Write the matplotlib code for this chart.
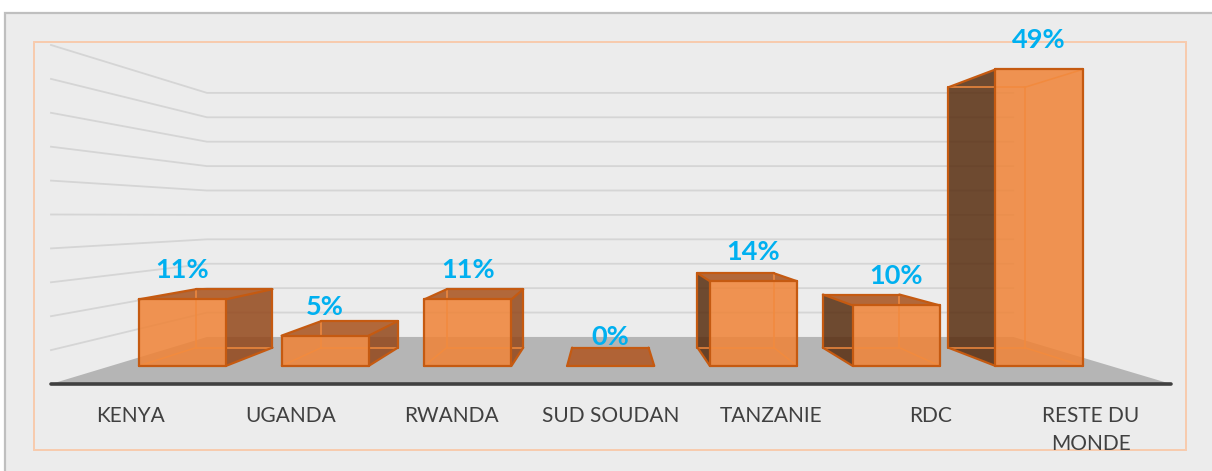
import matplotlib.pyplot as plt
from matplotlib.patches import Polygon, Rectangle

# Share of exports by destination
categories = ["KENYA", "UGANDA", "RWANDA", "SUD SOUDAN", "TANZANIE", "RDC", "RESTE DU\nMONDE"]
shares = [11, 5, 11, 0, 14, 10, 49]
grid_steps = list(range(5, 55, 5))   # value gridlines, in percent

# Perspective set-up (axes units are pixels, y pointing down)
HORIZON = 216          # eye level on screen
VANISH_X = 608         # vanishing point x
GROUND = 168           # front floor edge below the horizon
PX_PER_PCT = 6.78      # height of 1 % on the front plane
DEPTH_K = 0.389        # shrink factor of the floor depth
FLOOR_X0, FLOOR_X1 = 51, 1171
BAR_Z0, BAR_Z1 = 0.31, 0.71
BAR_FRAC = 0.61

EYE_PCT = GROUND / PX_PER_PCT


def proj(xf, v, z):
    s = 1 / (1 + DEPTH_K * z)
    return VANISH_X + s * (xf - VANISH_X), HORIZON + s * (GROUND - v * PX_PER_PCT)


fig = plt.figure(figsize=(12.12, 4.71), dpi=100)
ax = fig.add_axes([0, 0, 1, 1])
ax.set_xlim(0, 1212)
ax.set_ylim(471, 0)
ax.axis("off")

# chart and plot area frames
ax.add_patch(Rectangle((5, 13), 1300, 500, fc="#ECECEC", ec="#BFBFBF", lw=1.6, zorder=0))
ax.add_patch(Rectangle((34, 42), 1152, 408, fill=False, ec="#F8CBAD", lw=1.4, zorder=1))

# gridlines on the side wall and the back wall
for g in grid_steps:
    xa, ya = proj(FLOOR_X0, g, 0)
    xb, yb = proj(FLOOR_X0, g, 1)
    xc, yc = proj(FLOOR_X1, g, 1)
    ax.plot([xa, xb, xc], [ya, yb, yc], color="#D5D5D5", lw=1.3, zorder=2)

# floor
floor = [proj(FLOOR_X0, 0, 0), proj(FLOOR_X1, 0, 0), proj(FLOOR_X1, 0, 1), proj(FLOOR_X0, 0, 1)]
ax.add_patch(Polygon(floor, closed=True, fc="#B5B5B5", ec="none", zorder=3))
fx0, fy = proj(FLOOR_X0, 0, 0)
fx1, _ = proj(FLOOR_X1, 0, 0)
ax.plot([fx0, fx1], [fy, fy], color="#404040", lw=2.6, solid_capstyle="round", zorder=4)

slot = (FLOOR_X1 - FLOOR_X0) / len(categories)
for i, (name, v) in enumerate(zip(categories, shares)):
    c = FLOOR_X0 + (i + 0.5) * slot
    xl, xr = c - BAR_FRAC * slot / 2, c + BAR_FRAC * slot / 2

    corners = {}
    for kx, xx in (("l", xl), ("r", xr)):
        for kv, vv in (("b", 0), ("t", v)):
            for kz, zz in (("f", BAR_Z0), ("k", BAR_Z1)):
                corners[kx + kv + kz] = proj(xx, vv, zz)

    faces = {
        "front": ["lbf", "rbf", "rtf", "ltf"],
        "top": ["ltf", "rtf", "rtk", "ltk"],
        "left": ["lbf", "lbk", "ltk", "ltf"],
        "right": ["rbf", "rbk", "rtk", "rtf"],
    }
    colors = {"front": "#F08336", "top": "#A8511B", "left": "#582D0F", "right": "#93471A"}

    visible = ["front"]
    if v < EYE_PCT:
        visible.append("top")
    if xl > VANISH_X:
        visible.append("left")
    if xr < VANISH_X:
        visible.append("right")
    if v == 0:
        visible = ["top"]
        colors["top"] = "#B05520"

    for f in visible:
        ax.add_patch(Polygon([corners[k] for k in faces[f]], closed=True,
                             fc=colors[f], alpha=0.85, ec="none", zorder=5))

    # box edges: visible ones dark, hidden ones seen through the glass
    vis_edges = set()
    for f in visible:
        pts = faces[f]
        for a, b in zip(pts, pts[1:] + pts[:1]):
            vis_edges.add(frozenset((a, b)))
    all_edges = []
    for a in corners:
        for b in corners:
            if a < b and sum(p != q for p, q in zip(a, b)) == 1:
                all_edges.append(frozenset((a, b)))
    if v > 0:
        for e in all_edges:
            if e not in vis_edges:
                a, b = tuple(e)
                ax.plot([corners[a][0], corners[b][0]], [corners[a][1], corners[b][1]],
                        color="#F28A3E", lw=1.1, zorder=6)
    for e in vis_edges:
        a, b = tuple(e)
        ax.plot([corners[a][0], corners[b][0]], [corners[a][1], corners[b][1]],
                color="#C55A11", lw=1.6, solid_capstyle="round", zorder=7)

    # value label above the front face
    lx, ly = proj(c, v, BAR_Z0)
    ax.text(lx, ly - 29, f"{v}%", ha="center", va="center", fontsize=19.5,
            fontweight="bold", family="Lato", color="#00B0F0", zorder=8)

    # category label under the floor
    ax.text(c, 405.5, name, ha="center", va="top", fontsize=15, family="Lato",
            color="#404040", linespacing=1.5, zorder=8)

plt.savefig("out.png", dpi=100)
